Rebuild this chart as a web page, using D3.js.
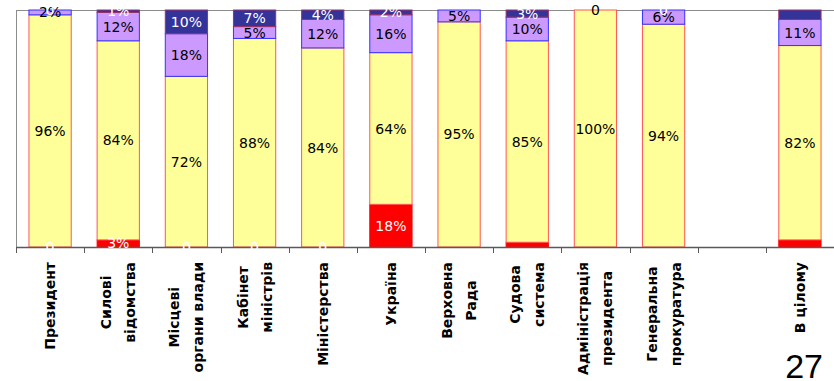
<!DOCTYPE html>
<html>
<head>
<meta charset="utf-8">
<script src="https://cdn.jsdelivr.net/npm/d3@7"></script>
<style>
  body { margin: 0; background: #fff; }
  svg { display: block; font-family: "DejaVu Sans", Verdana, sans-serif; }
</style>
</head>
<body>
<svg id="chart" width="834" height="381"></svg>
<script>
// DATA
const categories = [
	"Президент",
	"Силові\nвідомства",
	"Місцеві\nоргани влади",
	"Кабінет\nміністрів",
	"Міністерства",
	"Україна",
	"Верховна\nРада",
	"Судова\nсистема",
	"Адміністрація\nпрезидента",
	"Генеральна\nпрокуратура",
	"",
	"В цілому"
];

// bottom to top; null = no segment
const redVals      = [0, 3, 0, 0, 0, 18, null, 2, null, null, null, 3];
const yellowVals   = [96, 84, 72, 88, 84, 64, 95, 85, 100, 94, null, 82];
const lavenderVals = [2, 12, 18, 5, 12, 16, 5, 10, 0, 6, null, 11];
const navyVals     = [0, 1, 10, 7, 4, 2, null, 3, null, 0, null, 4];

// segments drawn without a data label
const unlabeled = [[7, "red"], [11, "red"], [11, "navy"]];

const series = [
	{ key: "red",      values: redVals,      fill: "#FF0000", stroke: "#FF0000", text: "#fff" },
	{ key: "yellow",   values: yellowVals,   fill: "#FFFF99", stroke: "#FF5555", text: "#000" },
	{ key: "lavender", values: lavenderVals, fill: "#CC99FF", stroke: "#3333FF", text: "#000" },
	{ key: "navy",     values: navyVals,     fill: "#333399", stroke: "#993366", text: "#fff" }
];

// SETUP
const svg = d3.select('#chart');

const plotLeft = 16, plotRight = 834, plotTop = 10, plotBottom = 247;

const x = d3.scaleBand()
	.domain(d3.range(categories.length))
	.range([plotLeft, plotRight])
	.padding(0);

const y = d3.scaleLinear()
	.domain([0, 1])
	.range([plotBottom, plotTop]);

const barW = x.bandwidth() * 0.62;

// stacked, normalised to 100%
let segments = [];
categories.forEach((c, i) => {
	let total = d3.sum(series, s => s.values[i] || 0);
	let acc = 0;
	series.forEach(s => {
		let v = s.values[i];
		if (v == null) return;
		let y0 = total ? acc / total : 0;
		acc += v;
		let y1 = total ? acc / total : 0;
		segments.push({ i, s, v, y0, y1 });
	});
});

// plot frame
svg.append('line')
	.attr('x1', plotLeft).attr('x2', plotRight)
	.attr('y1', plotTop + 0.5).attr('y2', plotTop + 0.5)
	.attr('stroke', '#8c8c8c');

// bars
svg.append('g').selectAll('rect')
	.data(segments.filter(d => d.y1 > d.y0))
	.join('rect')
	.attr('x', d => x(d.i) + (x.bandwidth() - barW) / 2)
	.attr('width', barW)
	.attr('y', d => y(d.y1))
	.attr('height', d => y(d.y0) - y(d.y1))
	.attr('fill', d => d.s.fill)
	.attr('stroke', d => d.s.stroke)
	.attr('stroke-width', 1);

// axes
svg.append('line')
	.attr('x1', plotLeft + 0.5).attr('x2', plotLeft + 0.5)
	.attr('y1', plotTop).attr('y2', plotBottom)
	.attr('stroke', '#8c8c8c');

svg.append('line')
	.attr('x1', plotLeft).attr('x2', plotRight)
	.attr('y1', plotBottom + 0.5).attr('y2', plotBottom + 0.5)
	.attr('stroke', '#595959')
	.attr('stroke-width', 1.5);

svg.append('g').selectAll('line')
	.data(d3.range(categories.length))
	.join('line')
	.attr('x1', d => Math.round(x(d)) + 0.5)
	.attr('x2', d => Math.round(x(d)) + 0.5)
	.attr('y1', plotBottom)
	.attr('y2', plotBottom + 6)
	.attr('stroke', '#595959');

// data labels
const isHidden = d => unlabeled.some(u => u[0] == d.i && u[1] == d.s.key);

svg.append('g').selectAll('text')
	.data(segments.filter(d => !isHidden(d)))
	.join('text')
	.attr('x', d => x(d.i) + x.bandwidth() / 2)
	.attr('y', d => (y(d.y0) + y(d.y1)) / 2)
	.attr('dy', '0.36em')
	.attr('text-anchor', 'middle')
	.attr('font-size', 14)
	.attr('fill', d => d.s.text)
	.text(d => d.v == 0 ? '0' : `${d.v}%`);

// category labels, rotated
const lineH = 24;
let catLabels = svg.append('g').selectAll('g')
	.data(categories.map((c, i) => ({ i, lines: c ? c.split('\n') : [] })))
	.join('g')
	.attr('transform', d => `translate(${x(d.i) + x.bandwidth() / 2},262) rotate(-90)`);

catLabels.each(function(d) {
	let g = d3.select(this);
	let texts = d.lines.map((line, k) => g.append('text')
		.attr('y', (k - (d.lines.length - 1) / 2) * lineH + 5)
		.attr('text-anchor', 'middle')
		.attr('font-size', 14)
		.attr('font-weight', 'bold')
		.attr('fill', '#000')
		.text(line));
	let maxLen = d3.max(texts, t => t.node().getComputedTextLength()) || 0;
	texts.forEach(t => t.attr('x', -maxLen / 2));
});

// page number
svg.append('text')
	.attr('x', 823)
	.attr('y', 378)
	.attr('text-anchor', 'end')
	.attr('font-family', 'Liberation Sans, Arial, sans-serif')
	.attr('font-size', 34)
	.attr('fill', '#000')
	.text('27');
</script>
</body>
</html>
